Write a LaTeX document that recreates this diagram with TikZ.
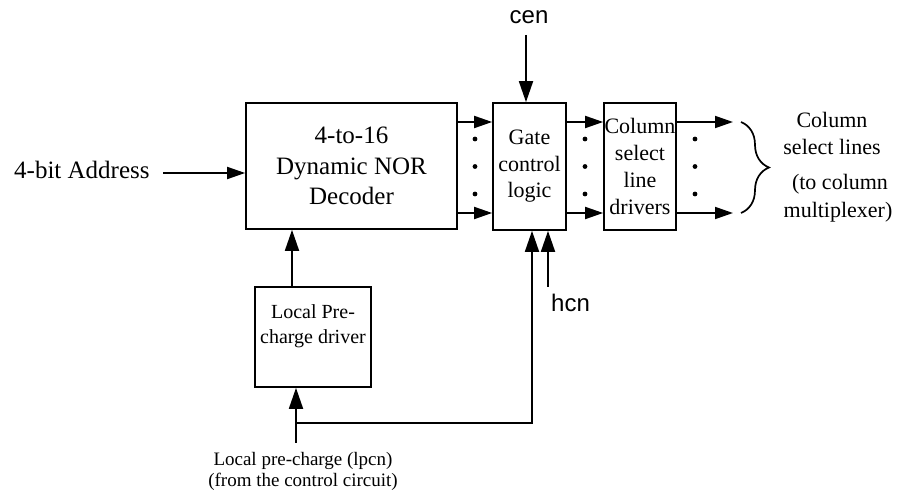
\documentclass[tikz,border=0pt]{standalone}
\usepackage{fontspec}
\setmainfont{Liberation Serif}
\newfontfamily\sansf{Liberation Sans}
\usetikzlibrary{arrows.meta,decorations.pathreplacing}
\begin{document}
\begin{tikzpicture}[x=1pt,y=-1pt,
  box/.style={draw,line width=1.7pt,inner sep=0pt,align=center},
  harr/.style={line width=1.8pt,-{Triangle[length=18pt,width=12pt]}},
  varr/.style={line width=1.8pt,-{Triangle[length=21pt,width=14pt]}},
  wire/.style={line width=1.8pt},
  lbl/.style={inner sep=0pt,anchor=base}]
\useasboundingbox (0,0) rectangle (898,494);

% blocks
\node[box,minimum width=211pt,minimum height=126pt,font=\fontsize{25}{30.5}\selectfont] (dec) at (351.5,166) {4-to-16\\Dynamic NOR\\Decoder};
\node[box,minimum width=73pt,minimum height=127pt,font=\fontsize{22}{26.5}\selectfont] (gate) at (529.5,166.5) {Gate\\control\\logic};
\node[box,minimum width=72pt,minimum height=127pt,font=\fontsize{22}{27.3}\selectfont] (col) at (640,166.5) {Column\\select\\line\\drivers};
\node[box,minimum width=116pt,minimum height=100pt] (lpd) at (313,337) {};
\node[lbl,font=\fontsize{20}{25}\selectfont] (lpdt1) at (313,319) {Local Pre-};
\node[lbl,font=\fontsize{20}{25}\selectfont] (lpdt2) at (313,344) {charge driver};

% address input
\node[lbl,anchor=base west,font=\fontsize{25}{30}\selectfont] (addr) at (14,179) {4-bit Address};
\coordinate (a0) at (163,173);
\draw[harr] (a0) -- (a0 -| dec.west);

% rows of lines
\coordinate (r1) at (0,122);
\coordinate (r2) at (0,213);
\draw[harr] (dec.east |- r1) -- (gate.west |- r1);
\draw[harr] (dec.east |- r2) -- (gate.west |- r2);
\draw[harr] (gate.east |- r1) -- (col.west |- r1);
\draw[harr] (gate.east |- r2) -- (col.west |- r2);
\coordinate (o1) at (733,122);
\coordinate (o2) at (733,213);
\draw[harr] (col.east |- o1) -- (o1);
\draw[harr] (col.east |- o2) -- (o2);

% dots
\foreach \x in {475,585,695}{
  \fill (\x,139) circle (2.4pt);
  \fill (\x,166.5) circle (2.4pt);
  \fill (\x,194) circle (2.4pt);
}

% brace
\coordinate (b1) at (741,122);
\coordinate (b2) at (741,213);
\draw[line width=1.7pt,decorate,decoration={brace,amplitude=28pt,aspect=0.5}] (b1) -- (b2);

% right labels
\node[lbl,font=\fontsize{22}{26}\selectfont] (cs1) at (832,128) {Column};
\node[lbl,font=\fontsize{22}{26}\selectfont] (cs2) at (832,155) {select lines};
\node[lbl,font=\fontsize{22}{26}\selectfont] (cs3) at (840,190) {(to column};
\node[lbl,font=\fontsize{22}{26}\selectfont] (cs4) at (838,218) {multiplexer)};

% cen
\node[lbl,font=\sansf\fontsize{24}{28}\selectfont] (cen) at (529,24) {cen};
\coordinate (c0) at (526,35);
\draw[varr] (c0) -- (c0 |- gate.north);

% hcn
\node[lbl,anchor=base west,font=\sansf\fontsize{24}{28}\selectfont] (hcn) at (551,312) {hcn};
\coordinate (h0) at (548,287);
\draw[varr] (h0) -- (h0 |- gate.south);

% local pre-charge wiring
\coordinate (p0) at (292,0);
\draw[varr] (lpd.north -| p0) -- (dec.south -| p0);
\coordinate (lp) at (296,443);
\coordinate (j) at (296,423);
\coordinate (g1) at (532,423);
\draw[varr] (lp) -- (lp |- lpd.south);
\draw[varr] (j) -- (g1) -- (g1 |- gate.south);

\node[lbl,font=\fontsize{19}{21}\selectfont] (lpc1) at (303,466) {Local pre-charge (lpcn)};
\node[lbl,font=\fontsize{19}{21}\selectfont] (lpc2) at (303,486) {(from the control circuit)};
\end{tikzpicture}
\end{document}
